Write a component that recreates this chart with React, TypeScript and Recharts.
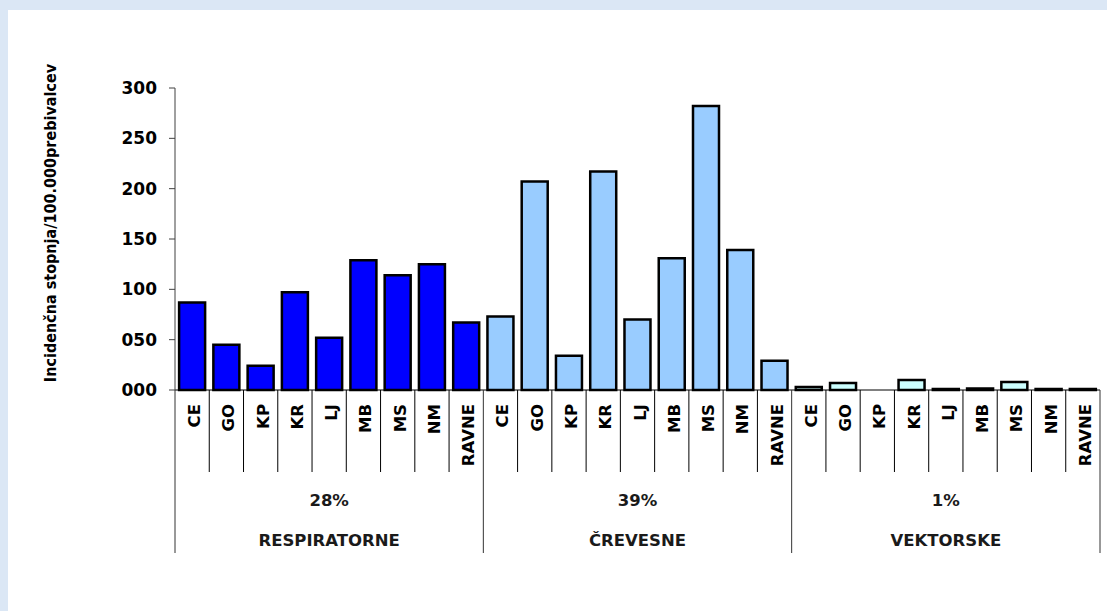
import { BarChart, Bar, XAxis, YAxis, Cell, Label } from 'recharts';

// regions shown in every disease group
const regions = ['CE', 'GO', 'KP', 'KR', 'LJ', 'MB', 'MS', 'NM', 'RAVNE'];
const groupNames = ['RESPIRATORNE', 'ČREVESNE', 'VEKTORSKE'];
const groupShares = ['28%', '39%', '1%'];

// incidence per 100.000 inhabitants
const respiratorne = [87, 45, 24, 97, 52, 129, 114, 125, 67];
const crevesne = [73, 207, 34, 217, 70, 131, 282, 139, 29];
const vektorske = [3, 7, 0, 10, 1, 1.5, 8, 1, 1];

const yTicks = [0, 50, 100, 150, 200, 250, 300];

const groupColors = ['#0000FF', '#99CCFF', '#CCFFFF'];
const font = "'DejaVu Sans', sans-serif";
const narrowFont = "'DejaVu Sans Condensed', 'Liberation Sans Narrow', 'DejaVu Sans', sans-serif";

const W = 1107;
const H = 611;
const margin = { top: 88, right: 7, left: 0, bottom: 0 };
const Y_AXIS_W = 175;
const X_AXIS_H = 221;
const PLOT_BOTTOM = H - margin.bottom - X_AXIS_H;
const BAND = (W - margin.left - margin.right - Y_AXIS_W) / (regions.length * groupNames.length);

const data = [respiratorne, crevesne, vektorske].flatMap((vals, g) =>
  vals.map((v, i) => ({ key: `${g}-${regions[i]}`, region: regions[i], group: g, pos: i, value: v }))
);

// two-level category axis: rotated region names, then share + group name
const CategoryTick = (props: any) => {
  const { x, payload } = props;
  const row = data[payload.index];
  if (!row) return null;
  const base = PLOT_BOTTOM;
  const last = row.pos === regions.length - 1;
  const mid = row.pos === Math.floor(regions.length / 2);
  const right = x + BAND / 2;
  return (
    <g>
      {payload.index === 0 && (
        <line x1={x - BAND / 2} x2={x - BAND / 2} y1={base} y2={base + 163} stroke="#333" />
      )}
      <line x1={right} x2={right} y1={base} y2={base + (last ? 163 : 82)} stroke={last ? '#333' : '#000'} />
      <text
        transform={`translate(${x + 8},${base + 14}) rotate(-90)`}
        textAnchor="end"
        fontFamily={font}
        fontSize={16.5}
        fontWeight="bold"
        fill="#000"
      >
        {row.region}
      </text>
      {mid && (
        <>
          <text x={x} y={base + 116} textAnchor="middle" fontFamily={font} fontSize={16.5} fontWeight="bold" fill="#1a1a1a">
            {groupShares[row.group]}
          </text>
          <text x={x} y={base + 156} textAnchor="middle" fontFamily={font} fontSize={16.5} fontWeight="bold" fill="#1a1a1a">
            {groupNames[row.group]}
          </text>
        </>
      )}
    </g>
  );
};

const App = () => {
  return (
    <div style={{ position: 'absolute', left: 0, top: 0, width: W, height: H, background: '#dbe7f5' }}>
      <div style={{ position: 'absolute', left: 8, top: 10, right: 0, bottom: 0, background: '#fff' }} />
      <div style={{ position: 'absolute', left: 0, top: 0 }}>
        <BarChart width={W} height={H} data={data} margin={margin} barCategoryGap="12%">
          <XAxis
            dataKey="key"
            height={X_AXIS_H}
            interval={0}
            tickLine={false}
            axisLine={{ stroke: '#000' }}
            tick={(p: any) => <CategoryTick {...p} />}
          />
          <YAxis
            width={Y_AXIS_W}
            domain={[0, 300]}
            ticks={yTicks}
            tickFormatter={(v: number) => String(v).padStart(3, '0')}
            tick={{ fill: '#000', fontSize: 17, fontWeight: 'bold', fontFamily: font }}
            tickSize={6}
            tickMargin={12}
            axisLine={{ stroke: '#404040' }}
            tickLine={{ stroke: '#404040' }}
          >
            <Label
              content={(p: any) => {
                const vb = p.viewBox || { y: margin.top, height: PLOT_BOTTOM - margin.top };
                const cy = vb.y + vb.height / 2 - 16;
                return (
                  <text
                    transform={`translate(56,${cy}) rotate(-90)`}
                    textAnchor="middle"
                    fontFamily={narrowFont}
                    fontSize={16}
                    fontWeight="bold"
                    fill="#000"
                  >
                    Incidenčna stopnja/100.000prebivalcev
                  </text>
                );
              }}
            />
          </YAxis>
          <Bar dataKey="value" stroke="#000" strokeWidth={2.5} isAnimationActive={false}>
            {data.map((d) => (
              <Cell key={d.key} fill={groupColors[d.group]} />
            ))}
          </Bar>
        </BarChart>
      </div>
    </div>
  );
};

export default App;
